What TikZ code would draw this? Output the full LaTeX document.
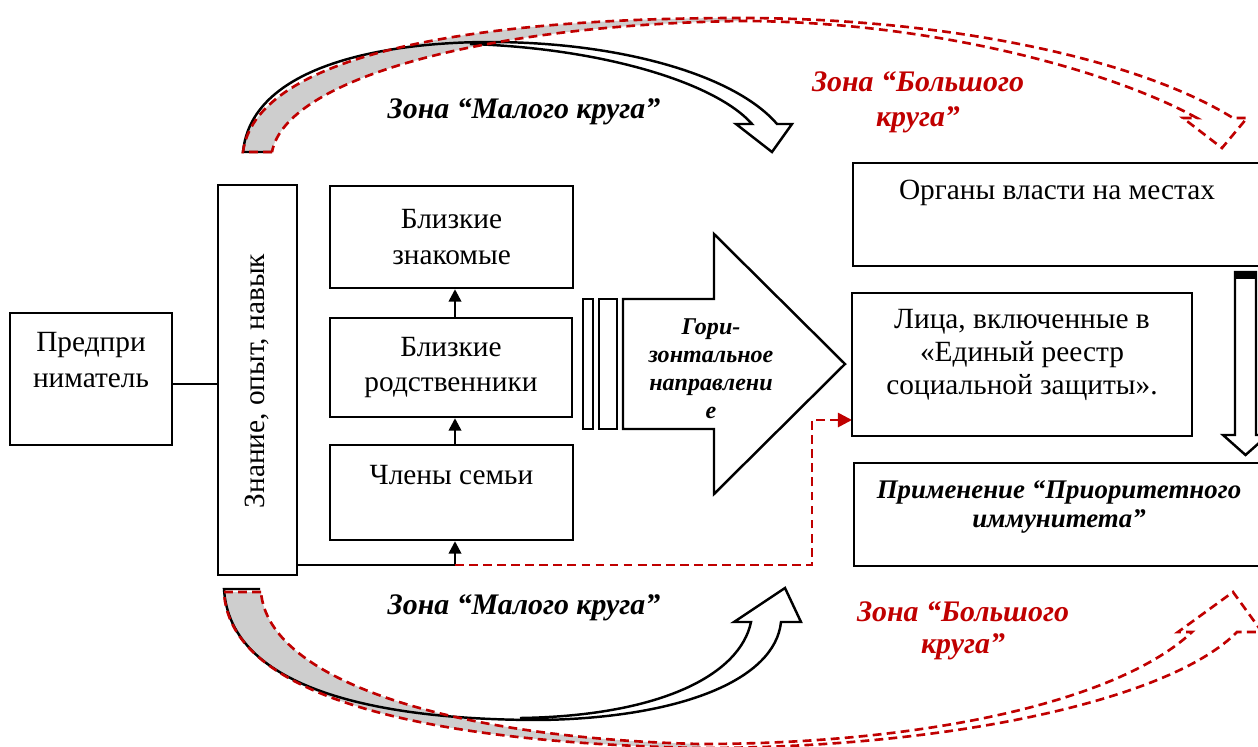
\documentclass[tikz,border=0pt]{standalone}
\usepackage{fontspec}
\setmainfont{Liberation Serif}
\usetikzlibrary{arrows.meta}
\definecolor{zonered}{RGB}{192,0,0}
\definecolor{backgray}{RGB}{206,206,206}

\begin{document}
\begin{tikzpicture}[x=0.02cm,y=-0.02cm,
	box/.style={draw,line width=1.4pt,inner sep=0pt},
	txt/.style={align=center,font=\fontsize{16.7}{20}\selectfont},
	zone/.style={align=center,font=\fontsize{17}{20}\selectfont\bfseries\itshape},
	reddash/.style={draw=zonered,line width=1.5pt,dash pattern=on 5pt off 3pt},
	up/.style={line width=1.4pt,-{Triangle[width=7pt,length=7pt]}}]
	\useasboundingbox (0,0) rectangle (1258,747);
	\clip (0,0) rectangle (1258,747);
	% back side of the big circle
	\fill[backgray] (243,152) .. controls (255,60) and (450,18) .. (740,18) -- (740,21) .. controls (480,25) and (285,80) .. (272,152) -- cycle;
	\fill[backgray] (224,592) .. controls (229,690) and (400,742) .. (700,748) -- (700,744) .. controls (450,738) and (268,680) .. (261,592) -- cycle;
	% small circle
	\draw[line width=1.4pt] (272,152) -- (243,152) .. controls (252,60) and (400,42) .. (490,42) .. controls (620,42) and (735,75) .. (777,124) -- (792,124) -- (772,152) -- (736,124) -- (752,124) .. controls (715,82) and (600,48) .. (470,44);
	\draw[line width=1.4pt] (260,589) -- (224,589) .. controls (230,690) and (380,720) .. (540,720) .. controls (680,718) and (775,680) .. (781,622) -- (801,622) -- (785,588) -- (734,622) -- (751,622) .. controls (740,675) and (660,716) .. (520,718);
	% big circle
	\draw[reddash] (272,152) -- (243,152) .. controls (255,60) and (450,18) .. (740,18) .. controls (950,18) and (1140,60) .. (1233,118) -- (1247,118) -- (1222,148) -- (1183,118) -- (1197,118) .. controls (1110,70) and (930,21) .. (740,21) .. controls (480,25) and (285,80) .. (272,152);
	\draw[reddash] (261,592) -- (224,592) .. controls (229,690) and (400,742) .. (700,748) .. controls (950,748) and (1170,700) .. (1237,632) -- (1262,632) -- (1233,592) -- (1178,632) -- (1192,632) .. controls (1120,700) and (930,744) .. (700,744) .. controls (450,738) and (268,680) .. (261,592);
	\node[zone] (malytop) at (524,112) {Зона “Малого круга”};
	\node[zone,text=zonered] (bolshtop) at (918,102) {Зона “Большого\\круга”};
	\node[zone] (malybot) at (524,608) {Зона “Малого круга”};
	\node[zone,text=zonered,font=\fontsize{17}{18.5}\selectfont\bfseries\itshape] (bolshbot) at (963,631) {Зона “Большого\\круга”};
	% left part
	\node[box,minimum width=3.24cm,minimum height=2.64cm] (predp) at (91,379) {};
	\node[txt] (predptxt) at (91,360) {Предпри\\ниматель};
	\node[box,minimum width=1.58cm,minimum height=7.8cm] (znanie) at (257.5,380) {};
	\node[txt,rotate=90] (znanietxt) at (257.5,381) {Знание, опыт, навык};
	\node[box,txt,minimum width=4.86cm,minimum height=2.04cm] (znakomye) at (451.5,237) {Близкие\\знакомые};
	\node[box,txt,minimum width=4.84cm,minimum height=1.98cm] (rodstv) at (451,367.5) {Близкие\\родственники};
	\node[box,minimum width=4.86cm,minimum height=1.9cm] (chleny) at (451.5,492.5) {};
	\node[txt] (chlenytxt) at (451.5,475) {Члены семьи};
	\coordinate (mid) at (195,384);
	\coordinate (split) at (455,565);
	\coordinate (turn) at (812,565);
	\coordinate (entry) at (852,420);
	\draw[line width=1.4pt] (predp.east |- mid) -- (znanie.west |- mid);
	\draw[line width=1.4pt] (znanie.east |- split) -- (split);
	\draw[up] (split) -- (split |- chleny.south);
	\draw[up] (split |- chleny.north) -- (split |- rodstv.south);
	\draw[up] (split |- rodstv.north) -- (split |- znakomye.south);
	\draw[reddash,-{Triangle[width=8pt,length=8pt]}] (split) -- (turn) |- (entry);
	% horizontal direction
	\node[box,minimum width=0.2cm,minimum height=2.6cm] (bar1) at (588,364) {};
	\node[box,minimum width=0.36cm,minimum height=2.6cm] (bar2) at (608,364) {};
	\draw[line width=1.4pt] (623,299) -- (714,299) -- (714,234) -- (845,364) -- (714,494) -- (714,429) -- (623,429) -- cycle;
	\node[zone,font=\fontsize{13.7}{16}\selectfont\bfseries\itshape] (gor) at (711,369) {Гори-\\зонтальное\\направлени\\е};
	% right part
	\node[box,minimum width=8.44cm,minimum height=2.06cm] (organy) at (1064,214.5) {};
	\node[txt] (organytxt) at (1057,193) {Органы власти на местах};
	\node[box,minimum width=6.8cm,minimum height=2.86cm] (litsa) at (1022,364.5) {};
	\node[txt,font=\fontsize{16.7}{19}\selectfont] (litsatxt) at (1022,355) {Лица, включенные в\\«Единый реестр\\социальной защиты».};
	\node[box,minimum width=8.42cm,minimum height=2.06cm] (prim) at (1064.5,514.5) {};
	\node[zone,font=\fontsize{15.3}{17}\selectfont\bfseries\itshape] (primtxt) at (1059,507) {Применение “Приоритетного\\иммунитета”};
	\draw[line width=1.4pt,fill=white] (1235,272) -- (1256,272) -- (1256,435) -- (1268,435) -- (1245.5,455) -- (1223,435) -- (1235,435) -- cycle;
	\fill (1235,272) rectangle (1256,279);
\end{tikzpicture}
\end{document}
